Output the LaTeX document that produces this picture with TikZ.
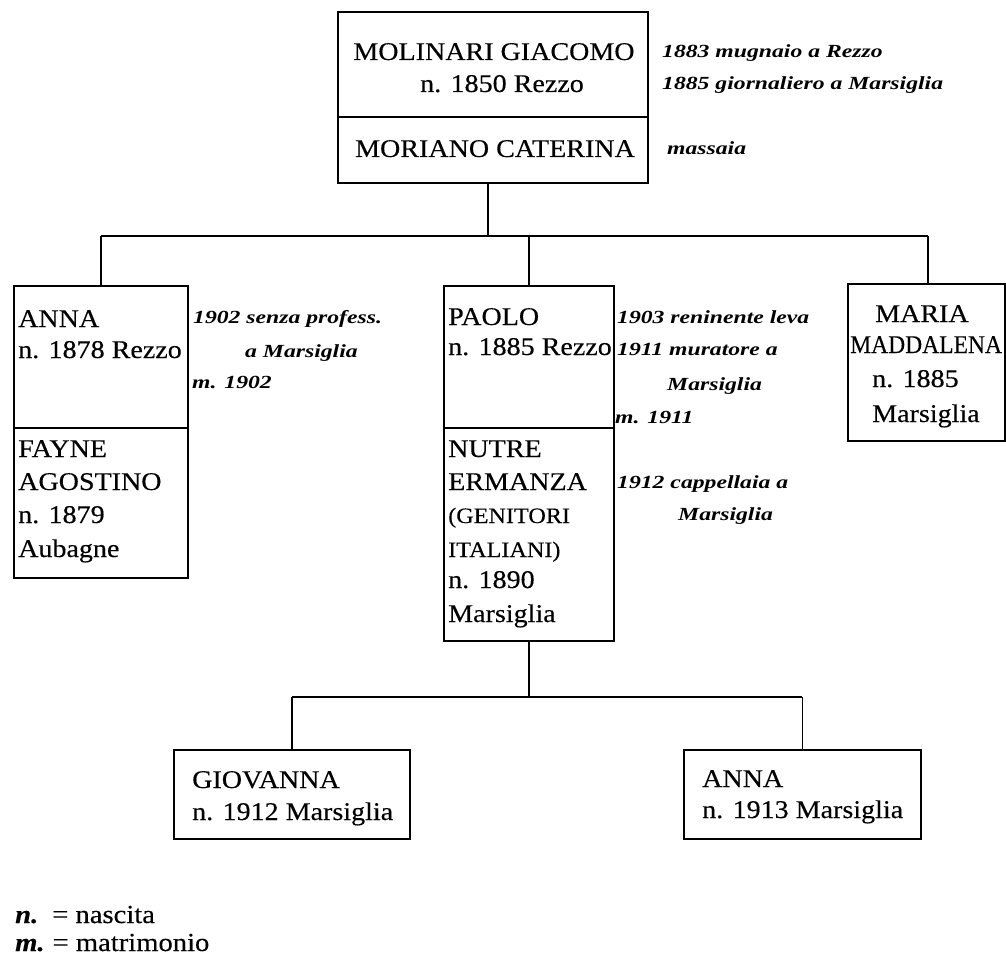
\documentclass[tikz,border=0pt]{standalone}
\usepackage{fontspec}
\setmainfont{Liberation Serif}[FakeStretch=1.1,FakeBold=0.3]
\newfontfamily\notefont{Liberation Serif}[FakeStretch=1.28]
\tikzset{
  box/.style={draw, line width=1.8pt, inner sep=0pt},
  rm/.style={anchor=base west, inner sep=0pt, font=\fontsize{25.5}{30}\selectfont},
  rmc/.style={anchor=base, inner sep=0pt, font=\fontsize{25.5}{30}\selectfont},
  sm/.style={anchor=base west, inner sep=0pt, font=\fontsize{22}{26}\selectfont},
  note/.style={anchor=base west, inner sep=0pt, font=\notefont\fontsize{18.5}{22}\selectfont\bfseries\itshape},
  leg/.style={anchor=base west, inner sep=0pt, font=\fontsize{26}{30}\selectfont},
  link/.style={line width=1.8pt}
}
\newcommand{\boxat}[5]{\node[box, anchor=north west, minimum width=#4pt, minimum height=#5pt] (#1) at (#2,#3) {};}
\begin{document}
\begin{tikzpicture}[x=1pt,y=-1pt]
\useasboundingbox (0,0) rectangle (1006,960);
% top couple
\boxat{topA}{337}{11}{310}{105}
\boxat{topB}{337}{116}{310}{66}
\node[rmc] (t1) at (494,60) {MOLINARI GIACOMO};
\node[rmc] (t2) at (502,92) {n. 1850 Rezzo};
\node[rmc] (t3) at (495,157) {MORIANO CATERINA};
\node[note] (n1) at (662,58) {1883 mugnaio a Rezzo};
\node[note] (n2) at (662,90) {1885 giornaliero a Marsiglia};
\node[note] (n3) at (667,155) {massaia};
% children boxes
\boxat{annaA}{13}{285}{174}{142}
\boxat{annaB}{13}{427}{174}{150}
\boxat{paoloA}{443}{285}{170}{142}
\boxat{paoloB}{443}{427}{170}{213}
\boxat{maria}{847}{283}{157}{157}
% connectors level 1
\coordinate (bar) at (490,236);
\coordinate (mdrop) at (928,236);
\draw[link] ([xshift=-5pt]topB.south) -- ([xshift=-5pt]topB.south |- bar);
\draw[link] (annaA.north |- bar) -- (mdrop);
\draw[link] (annaA.north) -- (annaA.north |- bar);
\draw[link] (paoloA.north) -- (paoloA.north |- bar);
\draw[link] (mdrop) -- (mdrop |- maria.north);
% ANNA text
\node[rm] (a1) at (18,327) {ANNA};
\node[rm] (a2) at (18,358) {n. 1878 Rezzo};
\node[rm] (a3) at (18,457) {FAYNE};
\node[rm] (a4) at (18,490) {AGOSTINO};
\node[rm] (a5) at (18,523) {n. 1879};
\node[rm] (a6) at (18,557) {Aubagne};
\node[note] (an1) at (193,323) {1902 senza profess.};
\node[note] (an2) at (245,357) {a Marsiglia};
\node[note] (an3) at (192,388) {m. 1902};
% PAOLO text
\node[rm] (p1) at (448,325) {PAOLO};
\node[rm] (p2) at (448,355) {n. 1885 Rezzo};
\node[rm] (p3) at (448,457) {NUTRE};
\node[rm] (p4) at (448,490) {ERMANZA};
\node[sm] (p5) at (448,523) {(GENITORI};
\node[sm] (p6) at (448,557) {ITALIANI)};
\node[rm] (p7) at (448,588) {n. 1890};
\node[rm] (p8) at (448,622) {Marsiglia};
\node[note] (pn1) at (617,323) {1903 reninente leva};
\node[note] (pn2) at (617,355) {1911 muratore a};
\node[note] (pn3) at (667,390) {Marsiglia};
\node[note] (pn4) at (615,423) {m. 1911};
\node[note] (pn5) at (617,488) {1912 cappellaia a};
\node[note] (pn6) at (678,520) {Marsiglia};
% MARIA text
\node[rm] (m1) at (875,322) {MARIA};
\node[rm] (m2) at (850,353) {\scalebox{0.84}[1]{MADDALENA}};
\node[rm] (m3) at (872,387) {n. 1885};
\node[rm] (m4) at (872,422) {Marsiglia};
% grandchildren
\boxat{giov}{173}{749}{236}{89}
\boxat{anna2}{683}{749}{237}{89}
\coordinate (bar2) at (528,697);
\draw[link] (paoloB.south) -- (paoloB.south |- bar2);
\draw[link] (giov.north |- bar2) -- (anna2.north |- bar2);
\draw[link] (giov.north) -- (giov.north |- bar2);
\draw[link] (anna2.north) -- (anna2.north |- bar2);
\node[rm] (g1) at (192,788) {GIOVANNA};
\node[rm] (g2) at (192,820) {n. 1912 Marsiglia};
\node[rm] (h1) at (702,787) {ANNA};
\node[rm] (h2) at (702,818) {n. 1913 Marsiglia};
% legend
\node[leg] (l1) at (15,923) {\textbf{\textit{n.}}\hspace{14pt}= nascita};
\node[leg] (l2) at (15,951) {\textbf{\textit{m.}}\hspace{8pt}= matrimonio};
\end{tikzpicture}
\end{document}
